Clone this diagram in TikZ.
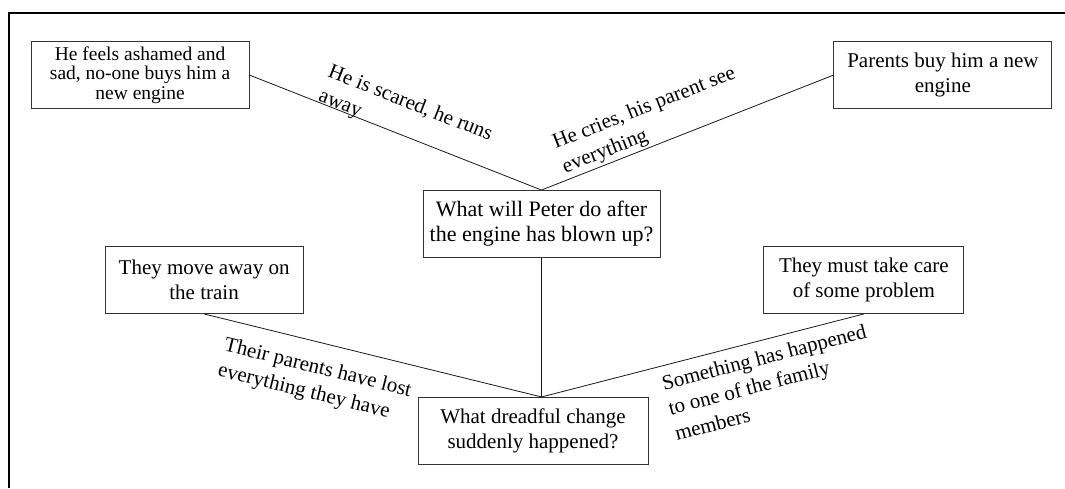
\documentclass[tikz,border=0pt]{standalone}
\usepackage{fontspec}
\setmainfont{Liberation Serif}
\usetikzlibrary{positioning}

\begin{document}
\begin{tikzpicture}[x=1pt,y=1pt,
	box/.style={draw=black!80,line width=0.9pt,align=center,inner sep=2pt,minimum height=67pt,font=\fontsize{21}{24.5}\selectfont},
	lbl/.style={sloped,align=left,inner sep=1pt,font=\fontsize{21}{26}\selectfont},
	line/.style={draw=black!90,line width=0.8pt}]

\useasboundingbox (0,0) rectangle (1065,488);
\draw[line width=1.8pt] (9,0) -- (9,475) -- (1065,475);

\node[box,minimum width=237pt,font=\fontsize{22}{25}\selectfont] (C) at (541.5,264)	{What will Peter do after\\the engine has blown up?};
\node[box,minimum width=218pt,font=\fontsize{19.5}{19.5}\selectfont] (A) [above left=81pt and 173pt of C]	{He feels ashamed and\\sad, no-one buys him a\\new engine};
\node[box,minimum width=218pt] (B) [above right=81pt and 173pt of C]	{Parents buy him a new\\engine};
\node[box,minimum width=230pt] (F) [below=139pt of C,xshift=-8.5pt]	{What dreadful change\\suddenly happened?};
\node[box,minimum width=198pt] (D) [above left=83pt and 114pt of F]	{They move away on\\the train};
\node[box,minimum width=200pt] (E) [above right=83pt and 115pt of F]	{They must take care\\of some problem};

\coordinate (Ftop) at (C.south |- F.north);

	\path[line] (A.east)  edge	node[lbl,above=-5pt,pos=0.51]	{He is scared, he runs\\away}	(C.north)
						(C.north)  edge	node[lbl,above=1pt,pos=0.4]	{He cries, his parent see\\everything}	(B.west)
						(C.south)  edge	(Ftop)
						(D.south)  edge	node[lbl,below=15pt,pos=0.355]	{Their parents have lost\\everything they have}	(Ftop)
						(Ftop)  edge	node[lbl,below=8pt,pos=0.677]	{Something has happened\\to one of the family\\members}	(E.south);

\end{tikzpicture}
\end{document}
